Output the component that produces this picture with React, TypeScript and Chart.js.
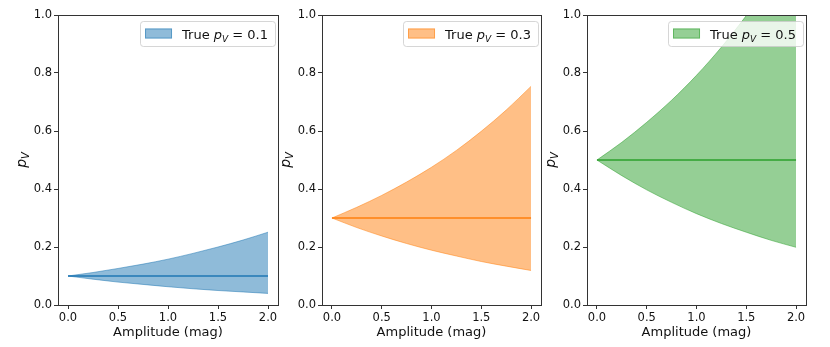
import React, { useEffect, useRef } from "react";
import { Chart, registerables } from "chart.js";
Chart.register(...registerables);

// ---- data ----
const amplitude = [0, 0.25, 0.5, 0.75, 1.0, 1.25, 1.5, 1.75, 2.0];
const truePV = [0.1, 0.3, 0.5];
const upperPV01 = [0.1, 0.112, 0.126, 0.141, 0.158, 0.178, 0.2, 0.224, 0.251];
const lowerPV01 = [0.1, 0.089, 0.079, 0.071, 0.063, 0.056, 0.05, 0.045, 0.04];
const upperPV03 = [0.3, 0.337, 0.378, 0.424, 0.475, 0.533, 0.599, 0.672, 0.754];
const lowerPV03 = [0.3, 0.267, 0.238, 0.212, 0.189, 0.169, 0.15, 0.134, 0.119];
const upperPV05 = [0.5, 0.561, 0.63, 0.706, 0.792, 0.889, 0.998, 1.119, 1.256];
const lowerPV05 = [0.5, 0.446, 0.397, 0.354, 0.315, 0.281, 0.251, 0.223, 0.199];
const xTicks = [0, 0.5, 1.0, 1.5, 2.0];
const yTicks = [0, 0.2, 0.4, 0.6, 0.8, 1.0];
const xLabel = "Amplitude (mag)";

const colors = ["#1f77b4", "#ff7f0e", "#2ca02c"];
const fills = ["rgba(31,119,180,0.5)", "rgba(255,127,14,0.5)", "rgba(44,160,44,0.5)"];
const uppers = [upperPV01, upperPV03, upperPV05];
const lowers = [lowerPV01, lowerPV03, lowerPV05];

const layouts = [
  { left: 0, width: 290, yw: 58, pr: 12 },
  { left: 270, width: 282, yw: 52, pr: 11 },
  { left: 540, width: 290, yw: 47, pr: 24 },
];

const H = 347;
const FONT = '"DejaVu Sans", sans-serif';
const SPINE = "#333";

function makeDeco(i: number) {
  return {
    id: "deco" + i,
    afterDraw(chart: any) {
      const ctx = chart.ctx as CanvasRenderingContext2D;
      const a = chart.chartArea;
      ctx.save();
      // spines
      ctx.strokeStyle = SPINE;
      ctx.lineWidth = 1;
      ctx.strokeRect(Math.round(a.left) + 0.5, Math.round(a.top) + 0.5,
        Math.round(a.right) - Math.round(a.left), Math.round(a.bottom) - Math.round(a.top));

      // x label
      ctx.fillStyle = "#111";
      ctx.font = "13px " + FONT;
      ctx.textAlign = "center";
      ctx.textBaseline = "middle";
      ctx.fillText(xLabel, (a.left + a.right) / 2, 333);

      // y label p_V
      ctx.save();
      ctx.translate(a.left - 35, (a.top + a.bottom) / 2);
      ctx.rotate(-Math.PI / 2);
      ctx.textAlign = "left";
      ctx.textBaseline = "alphabetic";
      ctx.font = "italic 14px " + FONT;
      const wp = ctx.measureText("p").width;
      ctx.font = "italic 10px " + FONT;
      const wv = ctx.measureText("V").width;
      const start = -(wp + wv) / 2;
      ctx.font = "italic 14px " + FONT;
      ctx.fillText("p", start, 3);
      ctx.font = "italic 10px " + FONT;
      ctx.fillText("V", start + wp, 6);
      ctx.restore();

      // legend
      const pvText = truePV[i].toFixed(1);
      ctx.textBaseline = "alphabetic";
      ctx.textAlign = "left";
      ctx.font = "13px " + FONT;
      const wTrue = ctx.measureText("True ").width;
      const wEq = ctx.measureText(" = " + pvText).width;
      ctx.font = "italic 13px " + FONT;
      const wP = ctx.measureText("p").width;
      ctx.font = "italic 9px " + FONT;
      const wV = ctx.measureText("V").width;
      const textW = wTrue + wP + wV + wEq;
      const boxRight = a.right - 3;
      const textEnd = boxRight - 7;
      const textStart = textEnd - textW;
      const patchRight = textStart - 10;
      const patchLeft = patchRight - 27;
      const boxLeft = patchLeft - 5;
      const boxTop = a.top + 6;
      const boxH = 25;
      ctx.beginPath();
      (ctx as any).roundRect(boxLeft + 0.5, boxTop + 0.5, boxRight - boxLeft, boxH, 3);
      ctx.fillStyle = "rgba(255,255,255,0.8)";
      ctx.fill();
      ctx.strokeStyle = "rgba(204,204,204,0.8)";
      ctx.lineWidth = 1;
      ctx.stroke();
      const cy = boxTop + boxH / 2;
      ctx.fillStyle = fills[i];
      ctx.fillRect(patchLeft, cy - 5, 27, 10);
      ctx.strokeStyle = fills[i];
      ctx.strokeRect(patchLeft + 0.5, cy - 5 + 0.5, 26, 9);
      const base = cy + 5;
      ctx.fillStyle = "#111";
      ctx.font = "13px " + FONT;
      ctx.fillText("True ", textStart, base);
      ctx.font = "italic 13px " + FONT;
      ctx.fillText("p", textStart + wTrue, base);
      ctx.font = "italic 9px " + FONT;
      ctx.fillText("V", textStart + wTrue + wP, base + 3);
      ctx.font = "13px " + FONT;
      ctx.fillText(" = " + pvText, textStart + wTrue + wP + wV, base);
      ctx.restore();
    },
  };
}

function Panel({ i }: { i: number }) {
  const ref = useRef<HTMLCanvasElement | null>(null);
  useEffect(() => {
    const L = layouts[i];
    const canvas = ref.current!;
    const pts = (ys: number[]) => amplitude.map((x, k) => ({ x, y: ys[k] }));
    const chart = new Chart(canvas, {
      type: "line",
      data: {
        datasets: [
          {
            data: [{ x: amplitude[0], y: truePV[i] }, { x: amplitude[amplitude.length - 1], y: truePV[i] }],
            borderColor: colors[i],
            borderWidth: 1.5,
            pointRadius: 0,
            fill: false,
          },
          {
            data: pts(uppers[i]),
            borderColor: fills[i],
            borderWidth: 1,
            backgroundColor: fills[i],
            pointRadius: 0,
            cubicInterpolationMode: "monotone",
            fill: "+1",
          },
          {
            data: pts(lowers[i]),
            borderColor: fills[i],
            borderWidth: 1,
            pointRadius: 0,
            cubicInterpolationMode: "monotone",
            fill: false,
          },
        ],
      } as any,
      options: {
        animation: false,
        responsive: false,
        devicePixelRatio: 1,
        layout: { padding: { left: 0, top: 15, right: L.pr, bottom: 0 } },
        plugins: { legend: { display: false }, tooltip: { enabled: false } },
        events: [],
        scales: {
          x: {
            type: "linear",
            min: -0.1,
            max: 2.1,
            afterFit: (s: any) => { s.height = 42; },
            afterBuildTicks: (s: any) => { s.ticks = xTicks.map((v) => ({ value: v })); },
            ticks: {
              callback: (v: any) => Number(v).toFixed(1),
              font: { family: FONT, size: 11.5 },
              color: "#111",
              padding: 2,
              maxRotation: 0,
            },
            grid: { drawOnChartArea: false, drawTicks: true, tickLength: 4, color: SPINE },
            border: { display: false },
          },
          y: {
            type: "linear",
            min: 0,
            max: 1,
            afterFit: (s: any) => { s.width = L.yw; },
            afterBuildTicks: (s: any) => { s.ticks = yTicks.map((v) => ({ value: v })); },
            ticks: {
              callback: (v: any) => Number(v).toFixed(1),
              font: { family: FONT, size: 11.5 },
              color: "#111",
              padding: 2,
            },
            grid: { drawOnChartArea: false, drawTicks: true, tickLength: 4, color: SPINE },
            border: { display: false },
          },
        },
      } as any,
      plugins: [makeDeco(i)],
    });
    return () => chart.destroy();
  }, [i]);
  const L = layouts[i];
  return (
    <canvas
      ref={ref}
      width={L.width}
      height={H}
      style={{ position: "absolute", left: L.left, top: 0, width: L.width, height: H }}
    />
  );
}

export default function App() {
  return (
    <div style={{ position: "fixed", left: 0, top: 0, width: 830, height: H, background: "#fff" }}>
      <Panel i={0} />
      <Panel i={1} />
      <Panel i={2} />
    </div>
  );
}
